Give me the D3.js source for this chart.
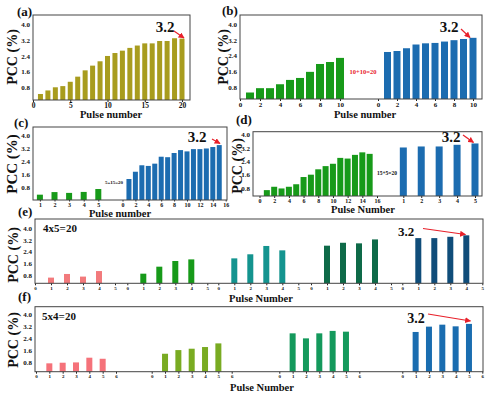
<!DOCTYPE html>
<html><head><meta charset="utf-8">
<script src="https://cdn.jsdelivr.net/npm/d3@7/dist/d3.min.js"></script>
<style>
body{margin:0;background:#fff}
svg{display:block}
text{font-family:"Liberation Serif","Times New Roman",serif;font-weight:bold;fill:#111}
</style>
</head><body>
<svg id="chart" width="496" height="394"></svg>
<script>
// ---------- data ----------
const yTickValues = [0.8, 1.6, 2.4, 3.2, 4.0];

const aValues = [0.46,0.64,0.80,0.86,1.08,1.34,1.66,1.90,2.12,2.39,2.54,2.66,2.80,2.92,3.03,3.03,3.15,3.15,3.29,3.27];
const aTicks = [0,5,10,15,20];

const bGreen = [0.53,0.75,0.75,0.95,1.17,1.27,1.58,1.98,2.08,2.29];
const bBlue  = [2.59,2.64,2.78,2.97,3.03,3.05,3.12,3.19,3.25,3.31];
const bTicks = [0,2,4,6,8,10];

const cGreen = [0.33,0.49,0.44,0.50,0.68];
const cBlue  = [1.30,1.75,2.15,2.11,2.25,2.68,2.65,2.91,3.09,3.01,3.15,3.15,3.19,3.28,3.40];
const cGreenTicks = [1,2,3,4,5];
const cBlueTicks = [0,2,4,6,8,10,12,14,16];

const dGreen = [0.68,0.88,0.78,0.88,1.03,1.46,1.60,1.92,2.11,2.25,2.60,2.56,2.78,2.93,2.84];
const dBlue  = [3.22,3.28,3.28,3.38,3.46];
const dGreenTicks = [0,2,4,6,8,10,12,14,16];
const dBlueTicks = [1,2,3,4,5];

const eSet1 = [0.62,0.87,0.69,1.07];
const eSet2 = [0.89,1.37,1.76,1.87];
const eSet3 = [1.94,2.22,2.79,2.49];
const eSet4 = [2.81,3.01,2.97,3.24];
const eSet5 = [3.33,3.33,3.42,3.52];
const eTicks = [0,1,2,3,4,5];

const fSet1 = [0.76,0.80,0.82,1.13,1.06];
const fSet2 = [1.39,1.63,1.72,1.83,2.07];
const fSet3 = [2.73,2.40,2.73,2.89,2.84];
const fSet4 = [2.82,3.17,3.30,3.19,3.35];
const fTicks = [0,1,2,3,4,5,6];

// ---------- colours ----------
const OLIVE="#a89c1e", GREEN="#179a19", BLUE="#1c6cb0";

// ---------- drawing ----------
const svg = d3.select("#chart");
const defs = svg.append("defs");
defs.append("marker").attr("id","arr").attr("viewBox","0 0 10 10").attr("refX",9).attr("refY",5)
  .attr("markerWidth",5).attr("markerHeight",5).attr("orient","auto")
  .append("path").attr("d","M0,0L10,5L0,10z").attr("fill","#e8202a");

function drawPanel(p){
  const g = svg.append("g");
  const [x0,y0,x1,y1] = p.box;
  const ys = d3.scaleLinear().domain(p.yDomain).range([y1,y0]);
  p.groups.forEach(gr=>{
    const xs = d3.scaleLinear().domain(gr.domain).range(gr.range);
    g.append("g").selectAll("rect").data(gr.values).enter().append("rect")
      .attr("x",(d,i)=>xs(i+1)-gr.bw/2).attr("width",gr.bw)
      .attr("y",d=>ys(d)).attr("height",d=>ys(p.yDomain[0])-ys(d))
      .attr("fill",gr.color);
    const ax = g.append("g").attr("transform",`translate(0,${y1})`)
      .call(d3.axisBottom(xs).tickValues(gr.ticks).tickSize(p.tick||2).tickSizeOuter(0).tickPadding(1).tickFormat(d3.format("d")));
    ax.attr("font-family",null).attr("font-size",null);
    ax.select(".domain").remove();
    ax.selectAll("line").attr("stroke","#222");
    ax.selectAll("text").attr("font-size",gr.fs).attr("fill","#111");
  });
  g.append("rect").attr("x",x0).attr("y",y0).attr("width",x1-x0).attr("height",y1-y0)
    .attr("fill","none").attr("stroke","#444").attr("stroke-width",1);
  const ay = g.append("g").attr("transform",`translate(${x0},0)`)
    .call(d3.axisLeft(ys).tickValues(yTickValues).tickSize(0).tickPadding(p.yPad||3).tickFormat(d3.format(".1f")));
  ay.attr("font-family",null).attr("font-size",null);
  ay.select(".domain").remove();
  ay.selectAll("text").attr("font-size",p.yfs||7).attr("fill","#111");
  // panel letter
  svg.append("text").attr("x",p.letter[0]).attr("y",p.letter[1]).attr("font-size",13).text(p.letter[2]);
  // y title
  svg.append("text").attr("transform",`translate(${p.ytitle[0]},${p.ytitle[1]}) rotate(-90)`)
    .attr("text-anchor","middle").attr("dominant-baseline","central").attr("font-size",p.ytitle[2]).text("PCC (%)");
  // x title
  svg.append("text").attr("x",p.xtitle[0]).attr("y",p.xtitle[1]).attr("text-anchor","middle")
    .attr("font-size",p.xtitle[3]).text(p.xtitle[2]);
  // 3.2 annotation
  const an = p.anno;
  svg.append("text").attr("x",an[0]).attr("y",an[1]).attr("text-anchor","middle").attr("font-size",an[2]).text("3.2");
  svg.append("line").attr("x1",an[3]).attr("y1",an[4]).attr("x2",an[5]).attr("y2",an[6])
    .attr("stroke","#e8202a").attr("stroke-width",1.2).attr("marker-end","url(#arr)");
  (p.notes||[]).forEach(n=>{
    svg.append("text").attr("x",n[0]).attr("y",n[1]).attr("text-anchor","middle")
      .attr("font-size",n[2]).style("fill",n[3]).text(n[4]);
  });
}

// (a)
drawPanel({box:[33,15,190,100], yDomain:[0.155,4.47],
  groups:[{domain:[0,20],range:[33,182],values:aValues,color:OLIVE,bw:5,ticks:aTicks,fs:7.5}],
  letter:[17,16,"(a)"], ytitle:[12,57,14], xtitle:[111,118,"Pulse number",10.5],
  anno:[165,32,15,174,31,184,38]});
// (b)
drawPanel({box:[240,15,482,99], yDomain:[0.2,4.47],
  groups:[{domain:[0,10],range:[240,340],values:bGreen,color:GREEN,bw:8,ticks:bTicks,fs:7},
          {domain:[0,10],range:[378,473],values:bBlue,color:BLUE,bw:7,ticks:bTicks,fs:7}],
  letter:[222,15,"(b)"], ytitle:[223,57,14], xtitle:[365,118,"Pulse number",10.5],
  anno:[449,32,15,461,29,470,37.5],
  notes:[[363,74,6.5,"#e8202a","10+10=20"]]});
// (c)
drawPanel({box:[33,127,227,200], yDomain:[0,4.52], tick:1.5,
  groups:[{domain:[0,5],range:[25.3,98.3],values:cGreen,color:GREEN,bw:6,ticks:cGreenTicks,fs:6},
          {domain:[0,16],range:[122.5,225.7],values:cBlue,color:BLUE,bw:5,ticks:cBlueTicks,fs:6}],
  letter:[14,127,"(c)"], ytitle:[12,164,15], xtitle:[120,216.5,"Pulse number",10.5],
  anno:[197,142,15,212,139,220,143.5],
  notes:[[114,184,5,"#111","5+15=20"]]});
// (d)
drawPanel({box:[253,131.7,482,196], yDomain:[0.33,4.16],
  groups:[{domain:[0,16],range:[259.5,377],values:dGreen,color:GREEN,bw:6,ticks:dGreenTicks,fs:6},
          {domain:[0,5],range:[385.4,475],values:dBlue,color:BLUE,bw:7,ticks:dBlueTicks,fs:6}],
  letter:[236,124,"(d)"], ytitle:[237,166,14], xtitle:[363,213,"Pulse Number",10.5],
  anno:[451,141.5,15,463,135,473.5,142.5],
  notes:[[387,174.5,5.5,"#111","15+5=20"]]});
// (e)
const eStarts=[35,127.3,218.3,311,402.3];
const eCols=["#f27a7c",GREEN,"#14948f","#0e6a48","#104d7a"];
const eData=[eSet1,eSet2,eSet3,eSet4,eSet5];
drawPanel({box:[35,219,483,283.3], yDomain:[0.23,4.64],
  groups:eData.map((v,i)=>({domain:[0,5],range:[eStarts[i],eStarts[i]+80],values:v,color:eCols[i],bw:6,ticks:eTicks,fs:5})),
  letter:[18,216,"(e)"], ytitle:[13,255,14], xtitle:[261,301.5,"Pulse Number",10.5],
  anno:[406,236,13,423,228.5,465.5,234.5],
  notes:[[60,232,11,"#111","4x5=20"]]});
// (f)
const fStarts=[36,151.7,279.3,402.3];
const fCols=["#f5727a","#79ab22","#14995c","#1a6db0"];
const fData=[fSet1,fSet2,fSet3,fSet4];
drawPanel({box:[35,306.7,483,371.7], yDomain:[0.21,4.48],
  groups:fData.map((v,i)=>({domain:[0,6],range:[fStarts[i],fStarts[i]+80],values:v,color:fCols[i],bw:6,ticks:fTicks,fs:5})),
  letter:[18,301,"(f)"], ytitle:[13,340,14], xtitle:[262,390.5,"Pulse Number",10.5],
  anno:[416,323,14,428,314,470.5,321],
  notes:[[59,320,11,"#111","5x4=20"]]});
</script>
</body></html>
